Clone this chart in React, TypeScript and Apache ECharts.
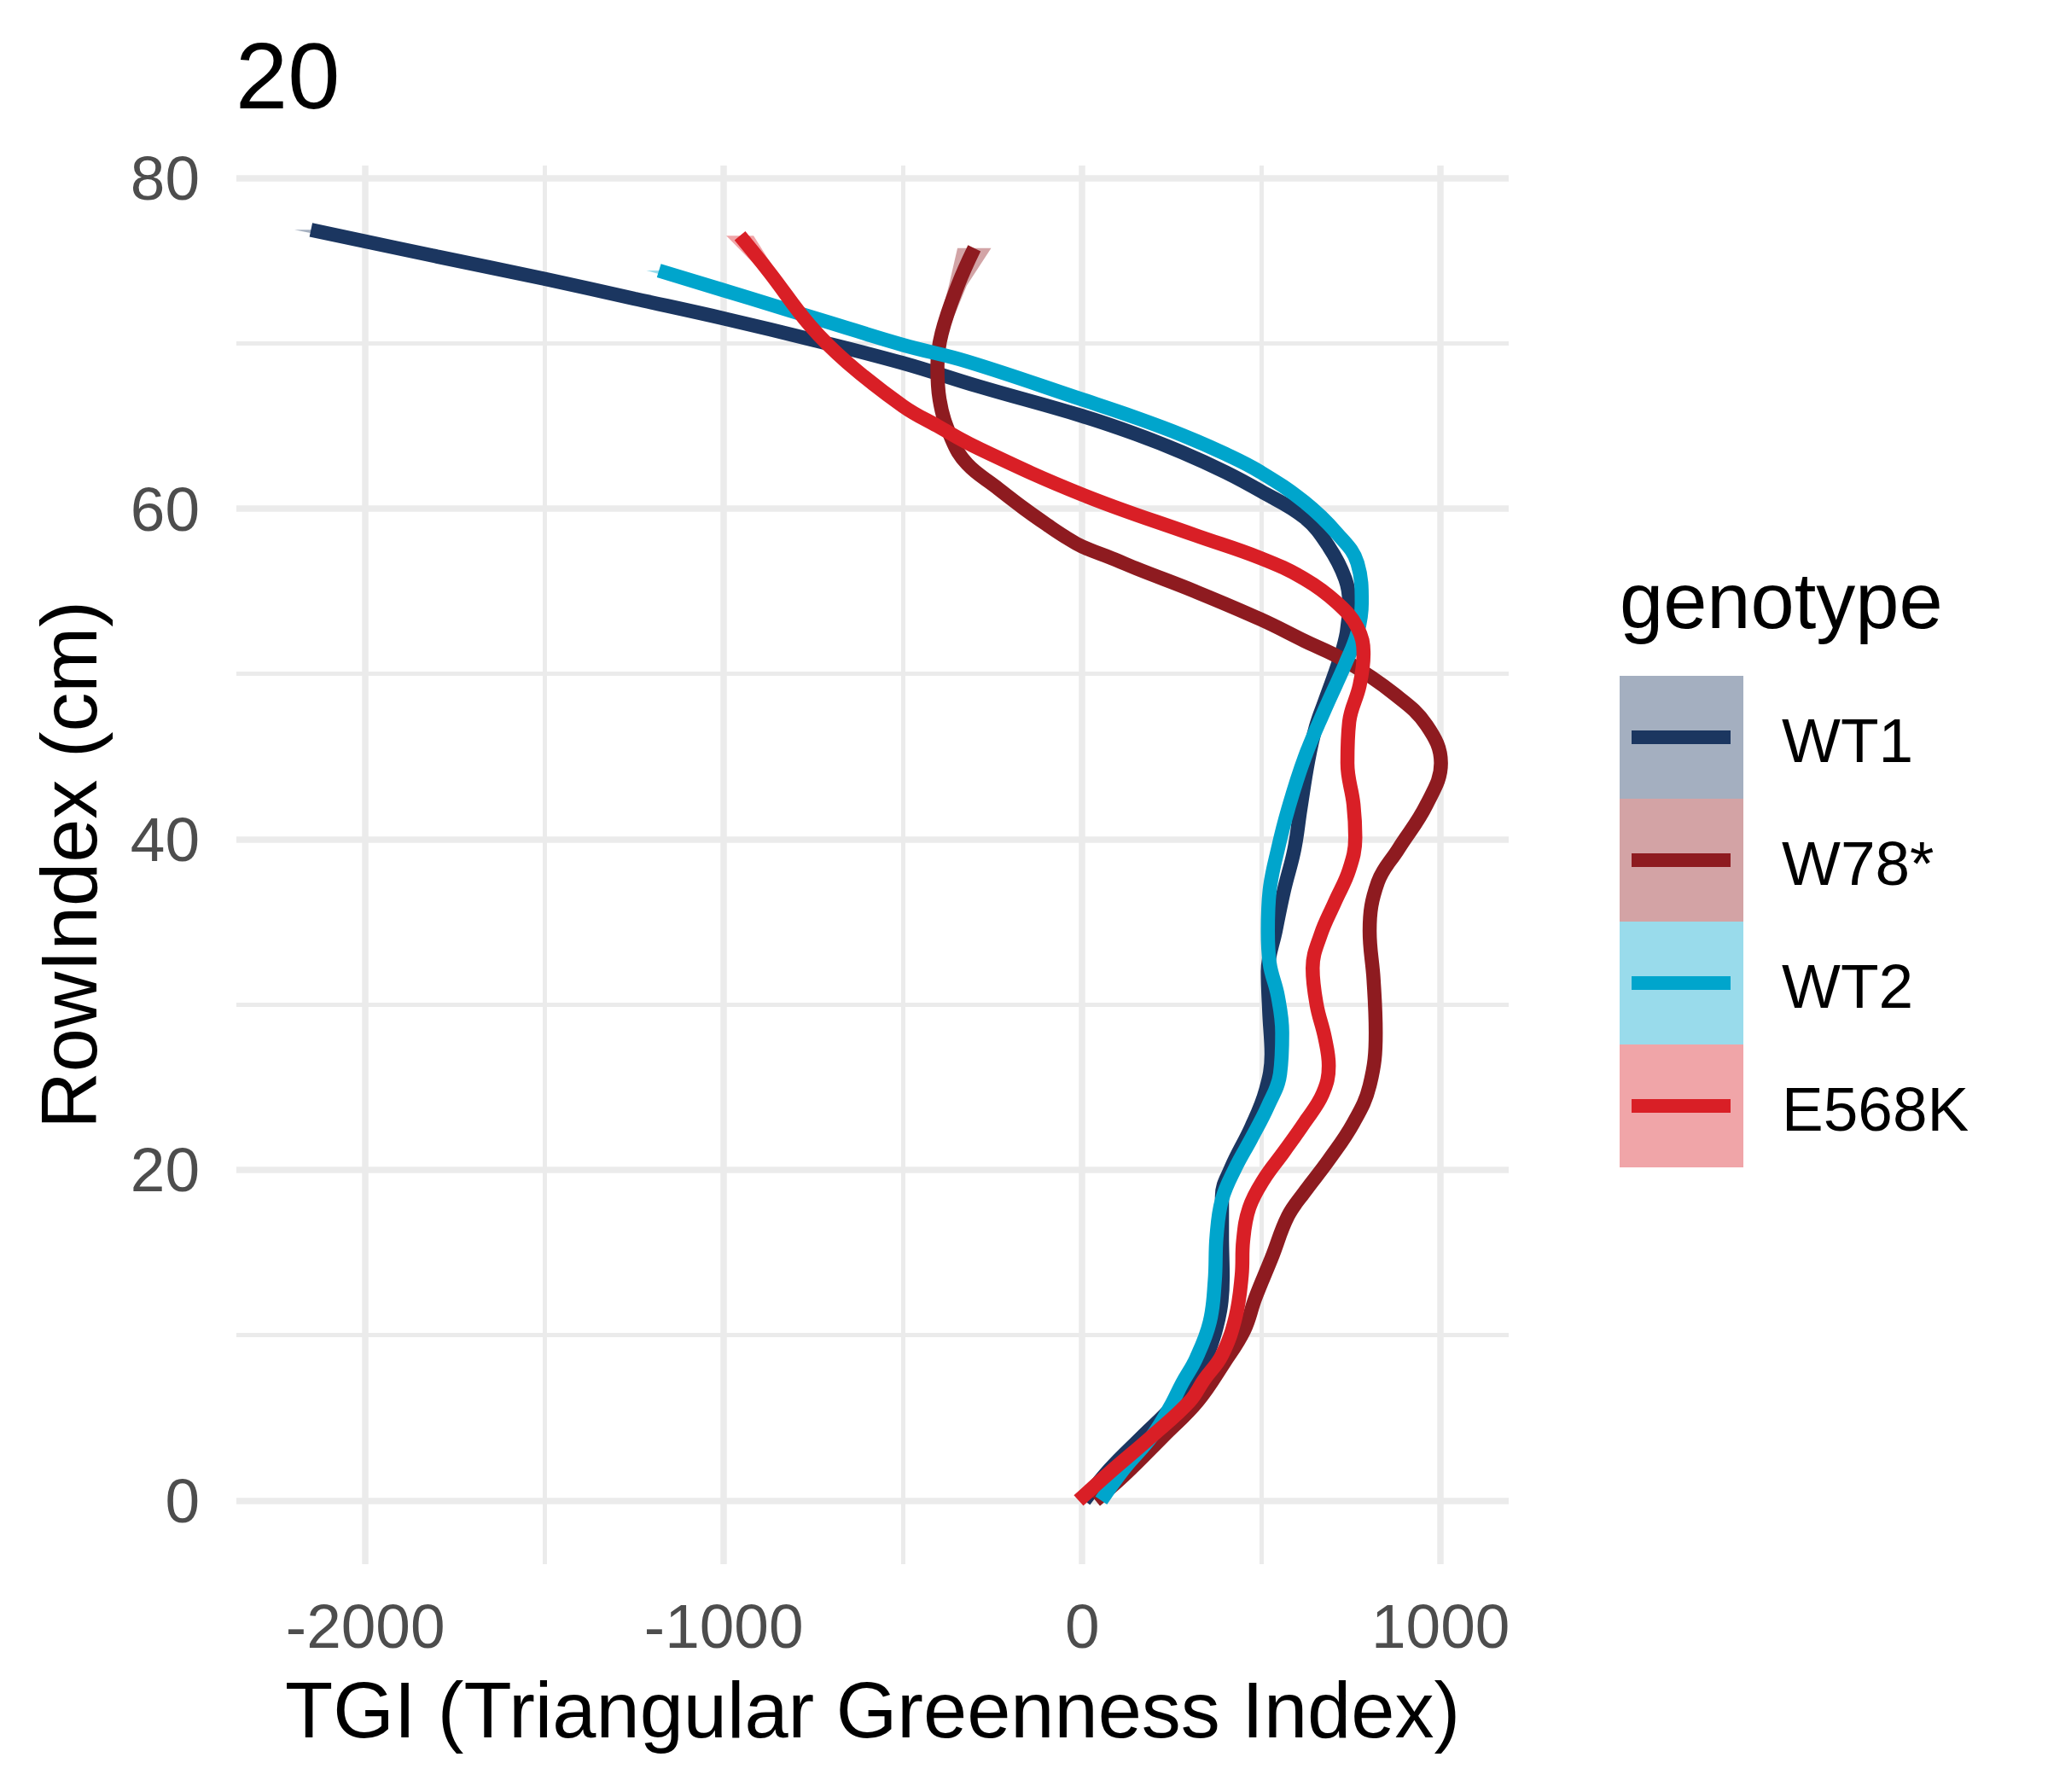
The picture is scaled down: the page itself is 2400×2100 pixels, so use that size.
import { useEffect, useRef } from "react"
import * as echarts from "echarts"

const FONT = '"Liberation Sans", Arial, sans-serif'

// genotype order, colours (line) and ribbon fills
const GENOTYPES = ["WT1", "W78*", "WT2", "E568K"]
const LINE_COLORS = ["#1B3660", "#8E1B20", "#00A5CC", "#D91F26"]
const KEY_FILLS = ["#A4AFC0", "#D3A3A5", "#99DBEB", "#F0A5A8"]

// loess fits: RowIndex (cm) and TGI
const WT1_ROW = [0, 1.9, 3.8, 5.65, 7.5, 9.3, 11.5, 13.5, 16, 18.4, 20.1, 22.6, 24.8, 27, 29.5, 32, 34.5, 36.9, 39.4, 41.85, 44.8, 46.8, 48.35, 50.8, 52.5, 54.3, 55.75, 57.7, 59.46, 61.06, 62.2, 63.4, 64.5, 65.6, 67.4, 68.8, 70.2, 71.5, 72.7, 73.9, 75.25, 76.86]
const WT1_TGI = [6, 77, 164, 250, 318, 358, 385, 392, 390, 390, 415, 472, 512, 528, 522, 518, 540, 563, 592, 609, 631, 652, 677, 717, 738, 745, 734, 688, 620, 498, 400, 279, 150, 0, -290, -500, -750, -1000, -1250, -1500, -1800, -2152]

const W78_ROW = [0, 1.5, 3.9, 6.0, 8.3, 10.3, 12.25, 14.7, 17.2, 18.65, 20.6, 22.85, 25.1, 28.3, 31.5, 34.45, 37.4, 39.4, 42.1, 44.6, 46.9, 48.8, 50.8, 52.0, 53.3, 55.0, 56.3, 57.0, 57.7, 58.3, 58.9, 60.0, 61.3, 62.7, 64.2, 66.6, 68.6, 70.6, 73.5, 75.75]
const W78_TGI = [37, 116, 227, 322, 395, 452, 483, 529, 574, 620, 688, 757, 802, 819, 813, 802, 825, 882, 961, 1001, 961, 870, 734, 620, 498, 314, 160, 82, 0, -48, -90, -162, -240, -321, -364, -398, -404, -392, -347, -301]

const WT2_ROW = [0, 1.9, 3.9, 5.65, 7.1, 8.6, 10.8, 13.3, 16, 18.2, 20.1, 21.9, 23.85, 25.8, 28.3, 30.5, 32.5, 34.45, 36.9, 39.4, 41.85, 44.9, 47.85, 50.6, 52.5, 54.3, 56.7, 58.5, 60.4, 62.2, 63.3, 64.45, 65.5, 66.6, 68.9, 69.9, 71.3, 72.7, 74.4]
const WT2_TGI = [53, 116, 195, 245, 279, 318, 356, 370, 375, 390, 427, 472, 518, 552, 558, 546, 523, 518, 523, 546, 575, 620, 677, 734, 768, 780, 768, 711, 620, 498, 400, 279, 150, 0, -321, -500, -712, -924, -1181]

const E568K_ROW = [0, 1.7, 3.9, 6.0, 7.3, 8.8, 11.1, 13.6, 15.7, 17.7, 19.4, 21.1, 22.85, 24.6, 26.3, 28.0, 30.0, 32.2, 34.2, 36.2, 38.15, 40.1, 42.1, 44.6, 47.1, 49.3, 51.2, 52.8, 54.3, 55.75, 57.0, 58.4, 60.85, 63.65, 65.0, 66.2, 68.84, 71.06, 74.3, 76.5]
const E568K_TGI = [-10, 77, 195, 300, 340, 390, 428, 445, 449, 466, 506, 563, 620, 671, 688, 677, 654, 643, 665, 705, 745, 762, 757, 740, 745, 774, 785, 768, 711, 620, 498, 314, 0, -290, -404, -500, -656, -759, -873, -955]

// confidence band, only where it shows past the line
const WT1_BAND_ROW = [73.9, 75.25, 76.86]
const WT1_BAND_LO = [-1510, -1830, -2198]
const WT1_BAND_HI = [-1490, -1770, -2106]

const W78_BAND_ROW = [66.6, 68.6, 70.6, 73.5, 75.75]
const W78_BAND_LO = [-406, -414, -407, -372, -348]
const W78_BAND_HI = [-390, -394, -377, -322, -254]

const WT2_BAND_ROW = [71.3, 72.7, 74.4]
const WT2_BAND_LO = [-720, -940, -1216]
const WT2_BAND_HI = [-704, -908, -1146]

const E568K_BAND_ROW = [71.06, 74.3, 76.5]
const E568K_BAND_LO = [-769, -893, -993]
const E568K_BAND_HI = [-749, -853, -917]

// axes
const X_MIN = -2360
const X_MAX = 1190
const Y_MIN = -3.85
const Y_MAX = 80.75
const X_MAJOR = [-2000, -1000, 0, 1000]
const X_MINOR = [-1500, -500, 500]
const Y_MAJOR = [0, 20, 40, 60, 80]
const Y_MINOR = [10, 30, 50, 70]

const LINES = [
  { row: WT1_ROW, tgi: WT1_TGI },
  { row: W78_ROW, tgi: W78_TGI },
  { row: WT2_ROW, tgi: WT2_TGI },
  { row: E568K_ROW, tgi: E568K_TGI },
]
const BANDS = [
  { row: WT1_BAND_ROW, lo: WT1_BAND_LO, hi: WT1_BAND_HI },
  { row: W78_BAND_ROW, lo: W78_BAND_LO, hi: W78_BAND_HI },
  { row: WT2_BAND_ROW, lo: WT2_BAND_LO, hi: WT2_BAND_HI },
  { row: E568K_BAND_ROW, lo: E568K_BAND_LO, hi: E568K_BAND_HI },
]

const GRID = { left: 277, top: 194, width: 1491, height: 1639 }

function majorAxis(min: number, max: number, ticks: number[], extra: any) {
  return {
    type: "value",
    min,
    max,
    axisLine: { show: false },
    axisTick: { show: false, customValues: ticks },
    axisLabel: {
      customValues: ticks,
      formatter: (v: number) => String(v),
      fontSize: 73,
      color: "#4D4D4D",
      fontFamily: FONT,
      ...extra.label,
    },
    splitLine: { show: true, lineStyle: { color: "#EBEBEB", width: 7.5 } },
    ...extra.axis,
  }
}

function minorAxis(min: number, max: number, ticks: number[], position: string) {
  return {
    type: "value",
    min,
    max,
    position,
    axisLine: { show: false },
    axisTick: { show: false, customValues: ticks },
    axisLabel: { show: false, customValues: ticks },
    splitLine: { show: true, lineStyle: { color: "#EBEBEB", width: 5 } },
  }
}

export default function App() {
  const chartRef = useRef<HTMLDivElement>(null)

  useEffect(() => {
    if (!chartRef.current) return
    const chart = echarts.init(chartRef.current, null, { renderer: "svg" })

    const series: any[] = []
    GENOTYPES.forEach((name, i) => {
      const band = BANDS[i]
      series.push({
        type: "custom",
        name: name + " band",
        xAxisIndex: 0,
        yAxisIndex: 0,
        silent: true,
        data: band.row.map((r, j) => [band.lo[j], r, band.hi[j]]),
        encode: { x: [0, 2], y: 1 },
        renderItem: (params: any, api: any) => {
          if (params.dataIndex !== 0) return null
          const left = band.row.map((r, j) => api.coord([band.lo[j], r]))
          const right = band.row.map((r, j) => api.coord([band.hi[j], r])).reverse()
          return {
            type: "polygon",
            shape: { points: left.concat(right) },
            style: { fill: LINE_COLORS[i], opacity: 0.4 },
          }
        },
      })
      const line = LINES[i]
      series.push({
        type: "line",
        name,
        xAxisIndex: 0,
        yAxisIndex: 0,
        data: line.row.map((r, j) => [line.tgi[j], r]),
        smooth: 0.4,
        showSymbol: false,
        symbol: "none",
        silent: true,
        lineStyle: { color: LINE_COLORS[i], width: 16.5, cap: "butt" },
      })
    })

    // legend drawn as ggplot-style keys
    const KEY_X = 1898
    const KEY_Y = 792
    const KEY_W = 145
    const KEY_H = 144
    const graphic: any[] = [
      {
        type: "text",
        x: 1898,
        y: 704,
        style: {
          text: "genotype",
          font: `92px ${FONT}`,
          fill: "#000",
          align: "left",
          verticalAlign: "middle",
        },
      },
    ]
    GENOTYPES.forEach((name, i) => {
      const y0 = KEY_Y + i * KEY_H
      graphic.push({
        type: "rect",
        shape: { x: KEY_X, y: y0, width: KEY_W, height: KEY_H },
        style: { fill: KEY_FILLS[i] },
      })
      graphic.push({
        type: "line",
        shape: { x1: KEY_X + 14, y1: y0 + KEY_H / 2, x2: KEY_X + KEY_W - 15, y2: y0 + KEY_H / 2 },
        style: { stroke: LINE_COLORS[i], lineWidth: 16 },
      })
      graphic.push({
        type: "text",
        x: 2088,
        y: y0 + KEY_H / 2 + 3,
        style: {
          text: name,
          font: `73px ${FONT}`,
          fill: "#000",
          align: "left",
          verticalAlign: "middle",
        },
      })
    })

    chart.setOption({
      animation: false,
      backgroundColor: "#FFFFFF",
      textStyle: { fontFamily: FONT },
      title: {
        text: "20",
        left: 276,
        top: 33,
        padding: 0,
        textStyle: { fontSize: 110, fontWeight: "normal", color: "#000", fontFamily: FONT },
      },
      grid: { ...GRID, containLabel: false, outerBoundsMode: "none" },
      xAxis: [
        majorAxis(X_MIN, X_MAX, X_MAJOR, {
          label: { margin: 36 },
          axis: {
            position: "bottom",
            name: "TGI (Triangular Greenness Index)",
            nameLocation: "middle",
            nameGap: 125,
            nameTextStyle: { fontSize: 92, color: "#000", fontFamily: FONT },
          },
        }),
        minorAxis(X_MIN, X_MAX, X_MINOR, "top"),
      ],
      yAxis: [
        majorAxis(Y_MIN, Y_MAX, Y_MAJOR, {
          label: { margin: 43 },
          axis: {
            position: "left",
            name: "RowIndex (cm)",
            nameLocation: "middle",
            nameGap: 150,
            nameTextStyle: { fontSize: 92, color: "#000", fontFamily: FONT },
          },
        }),
        minorAxis(Y_MIN, Y_MAX, Y_MINOR, "right"),
      ],
      series,
      graphic,
    })

    return () => {
      chart.dispose()
    }
  }, [])

  return (
    <div
      ref={chartRef}
      style={{ position: "absolute", left: 0, top: 0, width: 2400, height: 2100, background: "#fff" }}
    />
  )
}
